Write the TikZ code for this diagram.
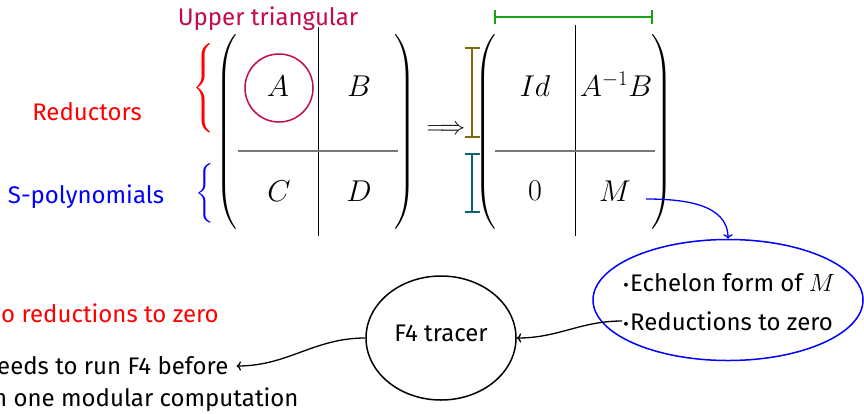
\documentclass[tikz,border=0pt]{standalone}
\usepackage{amsmath}
\usepackage[no-math]{fontspec}
\setmainfont{Fira Sans}
\usetikzlibrary{shapes.geometric,arrows.meta}
\definecolor{crim}{RGB}{196,10,72}
\definecolor{oliv}{RGB}{125,108,10}
\definecolor{tealc}{RGB}{10,100,110}
\definecolor{grn}{RGB}{25,160,25}
\definecolor{midgray}{RGB}{120,120,120}
\newcommand{\bigparL}[1]{$\left(\vcenter{\hbox{\rule{0pt}{#1}}}\right.$}
\newcommand{\bigparR}[1]{$\left.\vcenter{\hbox{\rule{0pt}{#1}}}\right)$}
\newcommand{\bigbrace}[1]{$\left\{\vcenter{\hbox{\rule{0pt}{#1}}}\right.$}
\begin{document}
\begin{tikzpicture}[x=1pt,y=-1pt,
  every node/.style={inner sep=0pt,font=\fontsize{24}{29}\selectfont},
  cell/.style={scale=1.21},
  vline/.style={black,line width=0.9pt},
  hline/.style={midgray,line width=1.6pt},
  bar/.style={line width=1.8pt},
  link/.style={->,line width=1.3pt}]
\useasboundingbox (0,0) rectangle (864,413);

% labels
\node[crim] (ut) at (268,19) {Upper triangular};
\node[red] (red) at (87,112) {Reductors};
\node[blue] (spol) at (86,197) {S-polynomials};
\node[red] (br1) at (204,88) {\bigbrace{93pt}};
\node[blue] (br2) at (205,193) {\bigbrace{52pt}};

% left matrix
\node (lp1) at (227,132) {\bigparL{198pt}};
\node (rp1) at (405,132) {\bigparR{198pt}};
\coordinate (v1t) at (318,27); \coordinate (v1b) at (318,236);
\coordinate (h1l) at (238,151); \coordinate (h1r) at (398,151);
\draw[vline] (v1t) -- (v1b);
\draw[hline] (h1l) -- (h1r);
\node[cell] (A) at (278,86) {$A$};
\node[draw=crim,circle,line width=1.5pt,minimum size=68pt] (Ac) at (279,88) {};
\node[cell] (B) at (359,86) {$B$};
\node[cell] (C) at (279,191) {$C$};
\node[cell] (D) at (359,191) {$D$};

\node (impl) at (446,130) {$\Longrightarrow$};

% right matrix
\node (lp2) at (486,132) {\bigparL{198pt}};
\node (rp2) at (662,132) {\bigparR{198pt}};
\coordinate (v2t) at (575,25); \coordinate (v2b) at (575,236);
\coordinate (h2l) at (495,151); \coordinate (h2r) at (655,151);
\draw[vline] (v2t) -- (v2b);
\draw[hline] (h2l) -- (h2r);
\node[cell] (Id) at (535,86) {$Id$};
\node[cell] (AB) at (616,84) {$A^{-1}B$};
\node[cell] (Z) at (535,191) {$0$};
\node[cell] (M) at (615,191) {$M$};

% bars
\coordinate (g1) at (494,17); \coordinate (g2) at (653,17);
\draw[bar,grn,{Bar[width=14pt]}-{Bar[width=14pt]}] (g1) -- (g2);
\coordinate (o1) at (472,47); \coordinate (o2) at (472,138);
\draw[bar,oliv,{Bar[width=15pt]}-{Bar[width=15pt]}] (o1) -- (o2);
\coordinate (t1) at (472,153); \coordinate (t2) at (472,213);
\draw[bar,tealc,{Bar[width=15pt]}-{Bar[width=15pt]}] (t1) -- (t2);

% ellipses
\node[draw=blue,ellipse,line width=1.5pt,minimum width=270pt,minimum height=121pt] (ech) at (728,300) {};
\node[anchor=west] (l1) at (622,283) {$\boldsymbol{\cdot}$Echelon form of $M$};
\node[anchor=west] (l2) at (622,321) {$\boldsymbol{\cdot}$Reductions to zero};
\node[draw,ellipse,line width=1.5pt,minimum width=150pt,minimum height=124pt] (f4) at (441,338) {};
\node (f4t) at (441,333) {F4 tracer};

% left texts
\node[red,anchor=west] (t1a) at (1,313) {o reductions to zero};
\node[anchor=west] (t2a) at (-3,366) {eeds to run F4 before};
\node[anchor=west] (t3a) at (-7,400) {n one modular computation};

% connectors
\coordinate (ms) at (646,199);
\draw[link,blue] (ms) to[out=0,in=90] (ech.north);
\draw[link] (l2.west) to[out=180,in=0] (f4.east);
\draw[link] (f4.west) to[out=180,in=0] ([xshift=8pt]t2a.east);
\end{tikzpicture}
\end{document}
